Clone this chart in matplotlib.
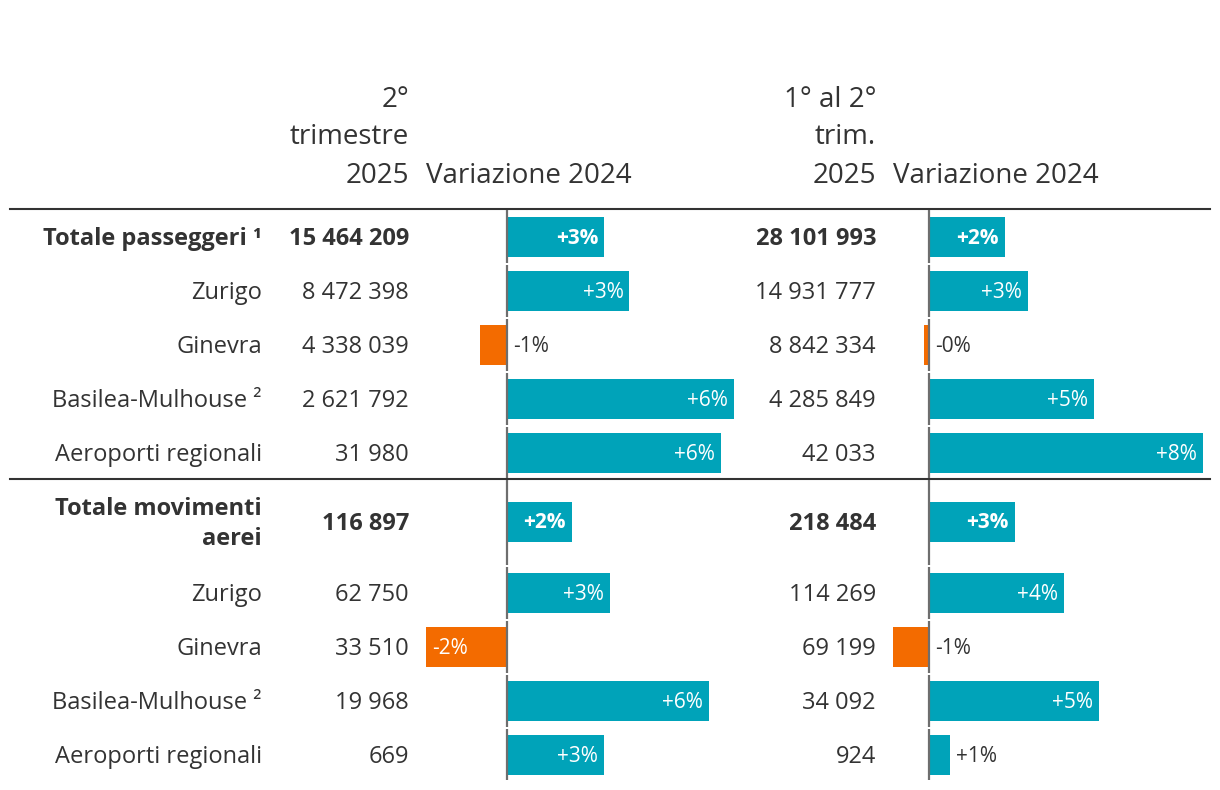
import matplotlib
matplotlib.use("Agg")
import matplotlib.pyplot as plt

plt.rcParams['font.family'] = ['Open Sans', 'DejaVu Sans']

# --- data ---
row_labels = ["Totale passeggeri \u00b9", "Zurigo", "Ginevra", "Basilea-Mulhouse \u00b2",
              "Aeroporti regionali", "Totale movimenti\naerei", "Zurigo", "Ginevra",
              "Basilea-Mulhouse \u00b2", "Aeroporti regionali"]
bold_rows = [0, 5]
q2_2025 = [15464209, 8472398, 4338039, 2621792, 31980, 116897, 62750, 33510, 19968, 669]
h1_2025 = [28101993, 14931777, 8842334, 4285849, 42033, 218484, 114269, 69199, 34092, 924]
chg_q2 = [2.7, 3.4, -0.75, 6.3, 5.95, 1.8, 2.85, -2.25, 5.6, 2.7]
chg_h1 = [2.3, 3.0, -0.15, 5.0, 8.3, 2.6, 4.1, -1.1, 5.15, 0.65]
head_q2 = ["2\u00b0", "trimestre", "2025"]
head_h1 = ["1\u00b0 al 2\u00b0", "trim.", "2025"]
head_var = "Variazione 2024"

# --- layout (pixels) ---
W, H = 1220, 790
row_y = [239, 293, 347, 401, 455, 524, 595, 649, 703, 757]
bar_y = [237, 291, 345, 399, 453, 522, 593, 647, 701, 755]
row_edges = [(209, 264), (264, 318), (318, 372), (372, 426), (426, 479),
             (479, 566), (566, 620), (620, 674), (674, 728), (728, 781)]
TEAL = "#00a3b9"
ORANGE = "#f36b00"
TXT = "#333333"
FS = 17
FS_HEAD = 20
FS_BAR = 15

fig = plt.figure(figsize=(W / 100, H / 100), dpi=100)
bg = fig.add_axes([0, 0, 1, 1])
bg.set_xlim(0, W)
bg.set_ylim(H, 0)
bg.axis("off")


def fmt(v):
    return f"{v:,}".replace(",", " ")


# headers
for i, (a, b) in enumerate(zip(head_q2, head_h1)):
    y = [100, 137, 176][i]
    bg.text(409, y, a, ha="right", va="center", fontsize=FS_HEAD, color=TXT)
    bg.text(876, y, b, ha="right", va="center", fontsize=FS_HEAD, color=TXT)
bg.text(426, 176, head_var, ha="left", va="center", fontsize=FS_HEAD, color=TXT)
bg.text(893, 176, head_var, ha="left", va="center", fontsize=FS_HEAD, color=TXT)

# separators
bg.plot([10, 1210], [209, 209], color=TXT, lw=1.5)
bg.plot([10, 1210], [479, 479], color=TXT, lw=1.5)

# row labels and values
for i, y in enumerate(row_y):
    w = "bold" if i in bold_rows else "normal"
    bg.text(262, y, row_labels[i], ha="right", va="center", fontsize=FS,
            color=TXT, fontweight=w, linespacing=1.35)
    bg.text(409, y, fmt(q2_2025[i]), ha="right", va="center", fontsize=FS,
            color=TXT, fontweight=w)
    bg.text(876, y, fmt(h1_2025[i]), ha="right", va="center", fontsize=FS,
            color=TXT, fontweight=w)


def bar_panel(x0, x1, zero_px, scale, values):
    ax = fig.add_axes([x0 / W, 0, (x1 - x0) / W, 1])
    ax.set_xlim((x0 - zero_px) / scale, (x1 - zero_px) / scale)
    ax.set_ylim(H, 0)
    ax.axis("off")
    colors = [TEAL if v >= 0 else ORANGE for v in values]
    ax.barh(bar_y, values, height=40, color=colors, linewidth=0)
    # zero line, broken between rows
    for top, bot in row_edges:
        ax.plot([0, 0], [top + 1, bot - 1], color="#6e6e6e", lw=1.6,
                solid_capstyle="butt")
    off = 6 / scale
    for i, v in enumerate(values):
        w = "bold" if i in bold_rows else "normal"
        lab = f"{v:+.0f}%"
        inside = abs(v) * scale > 50
        y = bar_y[i] + 1
        if inside and v > 0:
            ax.text(v - off, y, lab, ha="right", va="center",
                    fontsize=FS_BAR, color="white", fontweight=w)
        elif inside:
            ax.text(v + off, y, lab, ha="left", va="center",
                    fontsize=FS_BAR, color="white", fontweight=w)
        else:
            ax.text(max(v, 0) + off, y, lab, ha="left", va="center",
                    fontsize=FS_BAR, color=TXT, fontweight=w)
    return ax


bar_panel(420, 750, 507, 36, chg_q2)
bar_panel(885, 1212, 929, 33, chg_h1)

fig.savefig("out.png", dpi=100)
